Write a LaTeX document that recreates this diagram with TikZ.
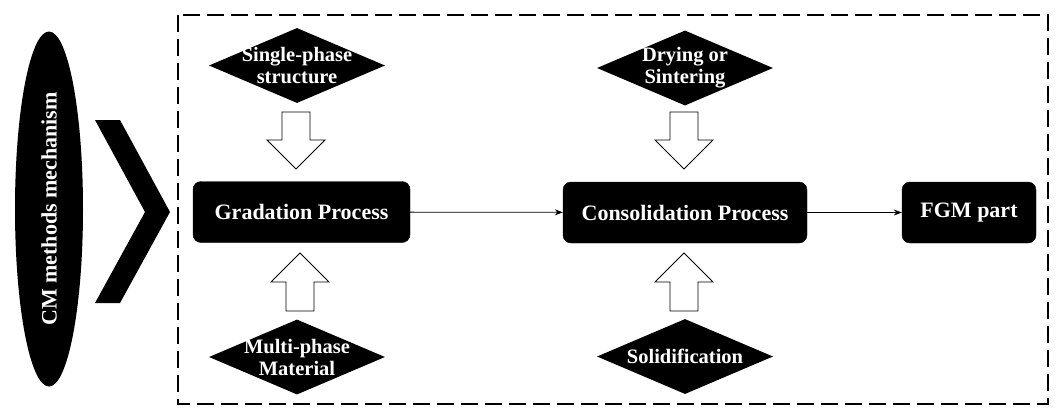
\documentclass[tikz,border=0pt]{standalone}
\usepackage{fontspec}
\setmainfont{Liberation Serif}
\usetikzlibrary{shapes.geometric,arrows.meta}

\tikzset{
  procbox/.style = {draw=black, fill=black, rounded corners=8pt, text=white, font=\bfseries\fontsize{22}{24}\selectfont, minimum height=61pt, inner sep=0pt},
  inbox/.style = {diamond, aspect=2.35, fill=black, text=white, font=\bfseries\fontsize{20.5}{22}\selectfont, minimum width=176pt, minimum height=75pt, inner sep=-6pt, align=center},
  downarr/.pic = {\draw[line width=0.9pt, fill=white] (-14,0) -- (14,0) -- (14,28) -- (29,28) -- (0,57) -- (-29,28) -- (-14,28) -- cycle;},
  uparr/.pic = {\draw[line width=0.9pt, fill=white] (-14,0) -- (14,0) -- (14,-29) -- (29,-29) -- (0,-58) -- (-29,-29) -- (-14,-29) -- cycle;}
}

\begin{document}
\begin{tikzpicture}[x=1pt, y=-1pt, >={Stealth[length=8pt, width=6pt]}]
    \useasboundingbox (0,0) rectangle (1057,407);
    % left side
    \node[ellipse, fill=black, text=white, rotate=90, minimum width=355pt, minimum height=68pt, inner sep=0pt, font=\bfseries\fontsize{22}{24}\selectfont] (cm) at (49,209) {CM methods mechanism};
    \fill (95,120) -- (120,120) -- (170,212) -- (120,303) -- (95,303) -- (145,212) -- cycle;
    \draw[line width=1.6pt, dash pattern=on 17pt off 7pt] (178,15) rectangle (1048,404);
    % main flow
    \node[procbox, minimum width=217pt] (grad) at (301.5,212) {Gradation Process};
    \node[procbox, minimum width=244pt] (cons) at (685,212.5) {Consolidation Process};
    \node[procbox, minimum width=134pt] (fgm) at (969,212.5) {FGM part};
    \draw[->, line width=0.8pt] (grad) -- (cons);
    \draw[->, line width=0.8pt] (cons) -- (fgm);
    % inputs
    \node[inbox] (single) at (297,65.5) {Single-phase\\structure};
    \node[inbox] (multi) at (297,357) {Multi-phase\\Material};
    \node[inbox] (dry) at (685,68) {Drying or\\Sintering};
    \node[inbox] (solid) at (685,356.5) {Solidification};
    \pic at (296,112) {downarr};
    \pic at (684,112) {downarr};
    \pic at (300,311) {uparr};
    \pic at (684,311) {uparr};
\end{tikzpicture}
\end{document}
